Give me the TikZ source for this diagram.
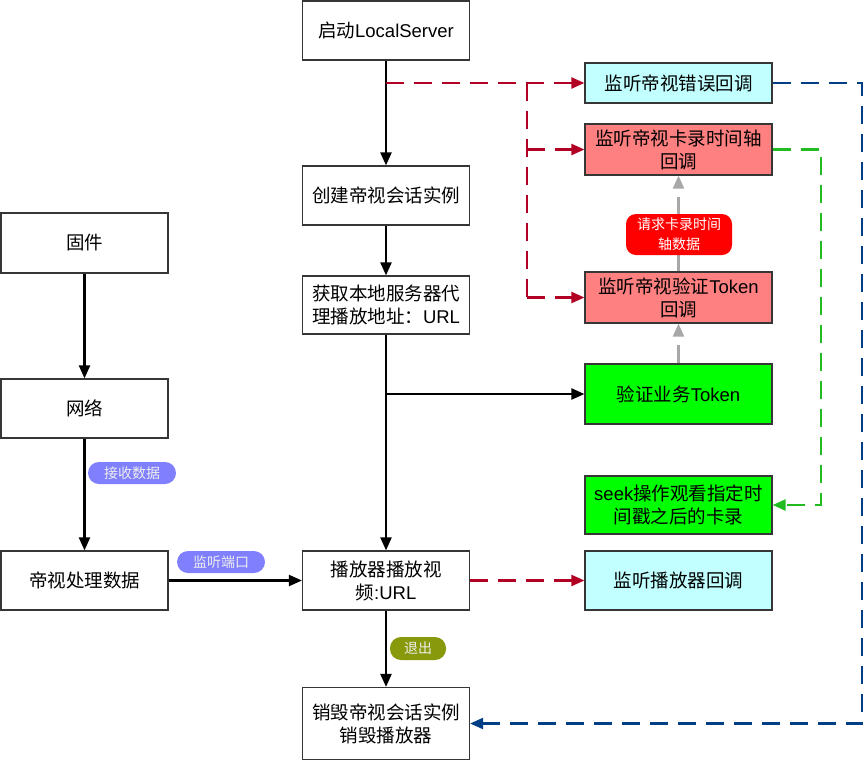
\documentclass[tikz,border=0pt]{standalone}
\usepackage{fontspec}
\setmainfont{Liberation Sans}
\newfontfamily\cjk{Noto Sans CJK SC}
\usetikzlibrary{arrows.meta}
\newcommand\zhs[1]{{\cjk #1}}
\definecolor{bordc}{HTML}{363636}
\definecolor{redc}{HTML}{B20024}
\definecolor{bluec}{HTML}{003E85}
\definecolor{greenc}{HTML}{22BB22}
\definecolor{grayc}{HTML}{A8A8A8}
\definecolor{cyanf}{HTML}{C2FFFF}
\definecolor{redf}{HTML}{FF8080}
\definecolor{greenf}{HTML}{00FF00}
\definecolor{pillc}{HTML}{8080FF}
\definecolor{olivec}{HTML}{88990C}
\definecolor{lblred}{HTML}{FF0000}
\definecolor{pilltxt}{HTML}{EEEEEE}
\begin{document}
\begin{tikzpicture}[x=1pt,y=-1pt,
  box/.style={draw=bordc,line width=1.2pt,inner sep=0pt,align=center,
    font=\fontsize{18.5}{23}\selectfont,minimum width=168pt,minimum height=59pt},
  rbox/.style={box,minimum width=187pt},
  pill/.style={fill=pillc,rounded corners=11pt,inner sep=0pt,align=center,
    text=pilltxt,font=\fontsize{14}{20}\selectfont,minimum width=88pt,minimum height=22pt},
  tipk/.style={-{Triangle[length=13pt,width=11pt]}},
  blk/.style={draw=black,line width=2.2pt,tipk},
  dsh/.style={line width=2.2pt,dash pattern=on 18pt off 10pt},
  rdash/.style={dsh,draw=redc},
  bdash/.style={dsh,draw=bluec},
  gdash/.style={dsh,draw=greenc},
  ydash/.style={dsh,draw=grayc},
]
\useasboundingbox (0,0) rectangle (864,761);
% middle column
\node[box,minimum width=167pt] (start) at (386,30.5) {\zhs{启动}LocalServer};
\node[box,minimum width=167pt] (create) at (386,195.5) {\zhs{创建帝视会话实例}};
\node[box,minimum width=167pt,minimum height=58pt] (get) at (386,305) {\zhs{获取本地服务器代}\\\zhs{理播放地址：}URL};
\node[box,minimum width=167pt] (play) at (386,580.5) {\zhs{播放器播放视}\\\zhs{频}:URL};
\node[box,minimum width=167pt,minimum height=72pt] (destroy) at (386,723.5) {\zhs{销毁帝视会话实例}\\\zhs{销毁播放器}};
% left column
\node[box,minimum width=167pt,minimum height=60pt] (fw) at (84.5,243) {\zhs{固件}};
\node[box,minimum width=167pt] (net) at (84.5,408.5) {\zhs{网络}};
\node[box,minimum width=167pt] (proc) at (84.5,580.5) {\zhs{帝视处理数据}};
% right column
\node[rbox,fill=cyanf,minimum height=40pt] (err) at (678.5,83) {\zhs{监听帝视错误回调}};
\node[rbox,fill=redf,minimum height=51pt] (card) at (678.5,149.5) {\zhs{监听帝视卡录时间轴}\\\zhs{回调}};
\node[rbox,fill=redf,minimum height=51pt] (tok) at (678.5,297.5) {\zhs{监听帝视验证}Token\\\zhs{回调}};
\node[rbox,fill=greenf,minimum height=60pt] (biz) at (678.5,394) {\zhs{验证业务}Token};
\node[rbox,fill=greenf,minimum height=58pt] (seek) at (678.5,505) {seek\zhs{操作观看指定时}\\\zhs{间戳之后的卡录}};
\node[rbox,fill=cyanf] (pcb) at (678.5,580.5) {\zhs{监听播放器回调}};
% junction coordinates
\coordinate (r0) at (start.south |- err.west);
\coordinate (rj) at (527,83);
\coordinate (bj) at (get.south |- biz.west);
\coordinate (gv) at (821,149.5);
\coordinate (bv) at (862,83);
% black connectors
\draw[blk] (start.south) -- (create.north);
\draw[blk] (create.south) -- (get.north);
\draw[blk] (get.south) -- (play.north);
\draw[blk] (bj) -- (biz.west);
\draw[blk] (play.south) -- (destroy.north);
\draw[blk] (fw.south) -- (net.north);
\draw[blk] (net.south) -- (proc.north);
\draw[blk] (proc.east) -- (play.west);
% red dashed
\draw[rdash,tipk] (r0) -- (err.west);
\draw[rdash] (rj) -- (rj |- tok.west);
\draw[rdash,tipk] (rj |- tok.west) -- (tok.west);
\draw[rdash,tipk] (rj |- card.west) -- (card.west);
\draw[rdash,tipk] (play.east) -- (pcb.west);
% gray dashed
\draw[ydash,tipk] (biz.north) -- (tok.south);
\draw[ydash,tipk] (tok.north) -- (card.south);
% green dashed
\draw[gdash,tipk] (card.east) -- (gv) |- (seek.east);
% blue dashed
\draw[bdash,tipk] (err.east) -- (bv) |- (destroy.east);
% labels
\node[pill] (l1) at (132,473) {\zhs{接收数据}};
\node[pill] (l2) at (221,562) {\zhs{监听端口}};
\node[pill,fill=olivec,minimum width=56pt,minimum height=23pt] (l3) at (418,648.5) {\zhs{退出}};
\node[pill,fill=lblred,text=white,rounded corners=10pt,minimum width=106pt,minimum height=41pt] (l4) at (679,234.5) {\zhs{请求卡录时间}\\\zhs{轴数据}};
\end{tikzpicture}
\end{document}
